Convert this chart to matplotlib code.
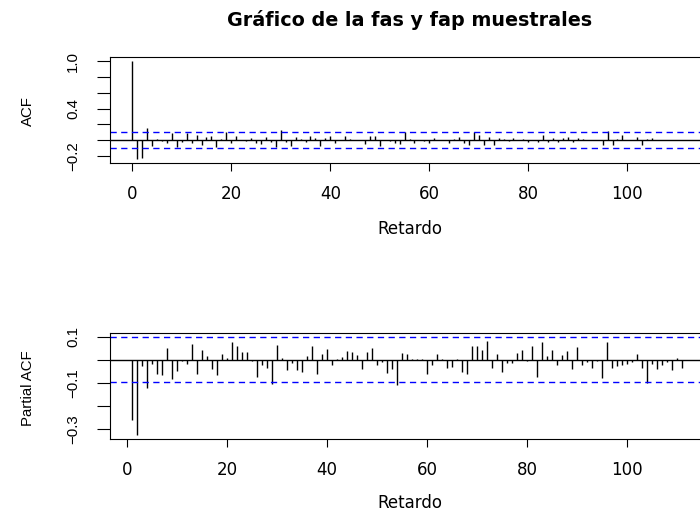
import numpy as np
import matplotlib
matplotlib.use("Agg")
import matplotlib.pyplot as plt

# ---------------- data ----------------
acf_lags = list(range(0, 113))
acf_vals = [
    1.0, -0.245, -0.23, 0.148, -0.07, 0.01, -0.01, -0.04, 0.095, -0.09,
    -0.02, 0.095, -0.04, 0.06, -0.065, 0.042, 0.05, -0.09, 0.01, 0.097,
    -0.034, 0.05, 0.005, -0.01, 0.03, -0.034, -0.05, 0.042, -0.025, -0.085,
    0.127, -0.025, -0.07, 0.034, 0.008, -0.02, 0.05, 0.02, -0.076, 0.03,
    0.055, -0.042, 0.005, 0.05, 0.008, -0.005, 0.005, -0.05, 0.05, 0.05,
    -0.07, 0.005, -0.01, -0.034, -0.05, 0.1, 0.017, -0.042, 0.005, -0.008,
    -0.042, 0.025, 0.005, -0.005, -0.034, 0.008, 0.042, -0.042, -0.06, 0.097,
    0.06, -0.06, 0.034, -0.06, 0.025, 0.008, -0.008, 0.025, 0.005, 0.008,
    -0.025, 0.005, -0.025, 0.068, -0.025, 0.025, -0.025, 0.02, 0.042, -0.025,
    0.02, 0.008, 0.005, 0.005, 0.005, -0.068, 0.11, -0.06, 0.017, 0.06,
    0.005, 0.005, 0.034, -0.06, 0.017, 0.02, 0.005, 0.005, 0.005, 0.005,
    0.005, 0.005, 0.005,
]
pacf_lags = list(range(1, 113))
pacf_vals = [
    -0.258, -0.325, -0.027, -0.12, -0.02, -0.06, -0.064, 0.051, -0.085, -0.05,
    -0.005, -0.02, 0.068, -0.06, 0.04, 0.014, -0.04, -0.064, 0.026, 0.009,
    0.078, 0.06, 0.035, 0.033, -0.006, -0.074, -0.021, -0.035, -0.106, 0.065,
    0.007, -0.043, -0.014, -0.043, -0.055, 0.018, 0.058, -0.06, 0.026, 0.047,
    -0.021, 0.004, 0.01, 0.038, 0.034, 0.021, -0.038, 0.035, 0.052, -0.023,
    -0.01, -0.057, -0.04, -0.11, 0.031, 0.023, 0.002, 0.002, 0.002, -0.06,
    -0.024, 0.026, 0.003, -0.035, -0.033, 0.002, -0.052, -0.06, 0.057, 0.06,
    0.044, 0.082, -0.034, 0.023, -0.052, -0.014, -0.014, 0.027, 0.043, -0.005,
    0.057, -0.074, 0.077, 0.014, 0.04, -0.021, 0.021, 0.037, -0.038, 0.055,
    -0.023, -0.009, -0.034, -0.006, -0.078, 0.075, -0.034, -0.026, -0.021, -0.018,
    -0.009, 0.023, -0.034, -0.099, -0.017, -0.04, -0.021, -0.009, -0.045, 0.009,
    -0.034, -0.002,
]
conf_limit = 0.097

title_text = "Gráfico de la fas y fap muestrales"
xlabel_text = "Retardo"
ylabel_acf = "ACF"
ylabel_pacf = "Partial ACF"
xtick_vals = [0, 20, 40, 60, 80, 100]
acf_yticks = [-0.2, 0.0, 0.2, 0.4, 0.6, 0.8, 1.0]
acf_ylabels = ["\u22120.2", "", "", "0.4", "", "", "1.0"]
pacf_yticks = [-0.3, -0.2, -0.1, 0.0, 0.1]
pacf_ylabels = ["\u22120.3", "", "\u22120.1", "", "0.1"]

# ---------------- layout ----------------
W, H = 700, 516
fig = plt.figure(figsize=(W / 100, H / 100), dpi=100)


def rect(l, t, r, b):
    return [l / W, 1 - b / H, (r - l) / W, (b - t) / H]


hfont = "DejaVu Sans"
vfont = "Liberation Sans"


def r_range(vals, extra):
    allv = list(vals) + list(extra)
    lo, hi = min(allv), max(allv)
    d = (hi - lo) * 0.04
    return lo - d, hi + d


def draw_panel(ax, lags, vals, yticks, ylabels, ylab, ycenter_px):
    ax.vlines(lags, 0, vals, color="black", lw=1.0)
    ax.axhline(0, color="black", lw=1.0)
    for c in (conf_limit, -conf_limit):
        ax.axhline(c, color="#0000FF", lw=1.0, ls=(0, (4.5, 3.2)))
    ax.set_xlim(*r_range(lags, []))
    ax.set_ylim(*r_range(vals, [conf_limit, -conf_limit]))
    for s in ax.spines.values():
        s.set_linewidth(0.8)
    ax.set_xticks(xtick_vals)
    ax.set_xticklabels([str(v) for v in xtick_vals], fontsize=12, family=hfont)
    ax.set_yticks(yticks)
    ax.set_yticklabels(ylabels, fontsize=10.8, family=vfont, rotation=90,
                       va="center", ha="right")
    ax.tick_params(axis="x", length=5.8, width=0.8, pad=10)
    ax.tick_params(axis="y", length=9.6, width=0.8, pad=12)
    fig.text(27.7 / W, 1 - ycenter_px / H, ylab, rotation=90, ha="center",
             va="center", fontsize=10.8, family=vfont)


ax1 = fig.add_axes(rect(110, 57.3, 709, 163.3))
draw_panel(ax1, acf_lags, acf_vals, acf_yticks, acf_ylabels, ylabel_acf, 110.7)
ax2 = fig.add_axes(rect(110, 333.3, 709, 439))
draw_panel(ax2, pacf_lags, pacf_vals, pacf_yticks, pacf_ylabels, ylabel_pacf, 388)

cx = (110 + 709) / 2 / W
fig.text(cx, 1 - 20 / H, title_text, ha="center", va="center", fontsize=13.8,
         fontweight="bold", family=hfont)
fig.text(cx, 1 - 229 / H, xlabel_text, ha="center", va="center", fontsize=12,
         family=hfont)
fig.text(cx, 1 - 503 / H, xlabel_text, ha="center", va="center", fontsize=12,
         family=hfont)

fig.savefig("out.png", dpi=100)
